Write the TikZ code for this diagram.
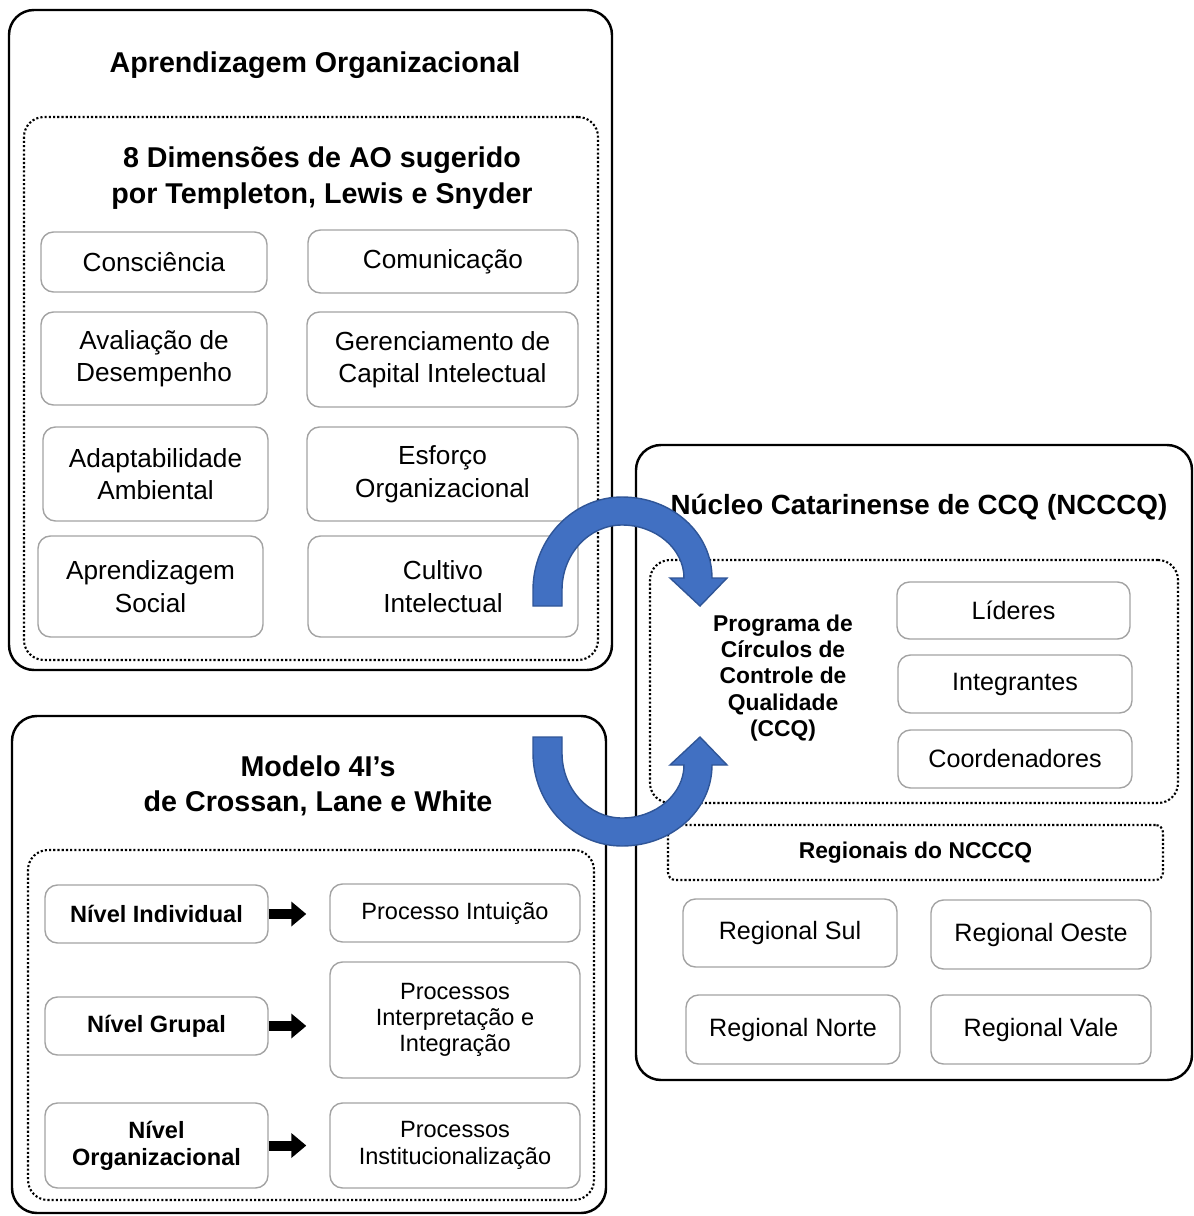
\documentclass[tikz,border=0pt]{standalone}
\usepackage{fontspec}
\setmainfont{Liberation Sans}
\usepackage{xcolor}
\definecolor{itemEdge}{HTML}{A3A3A3}
\definecolor{bendFill}{HTML}{4170C2}
\definecolor{bendEdge}{HTML}{2F5597}
\usetikzlibrary{arrows.meta}

\tikzset{
  outerbox/.style={draw=black, line width=1.4pt, rounded corners=0.5cm, inner sep=0pt},
  dotbox/.style={draw=black, line width=1.2pt, dash pattern=on 1.2pt off 1.2pt, rounded corners=0.4cm, inner sep=0pt},
  itembox/.style={draw=itemEdge, line width=0.8pt, rounded corners=0.25cm, inner sep=0pt, align=center},
  boxsize/.style 2 args={minimum width=#1*0.02cm, minimum height=#2*0.02cm},
  titletext/.style={font=\fontsize{16.3}{20.5}\selectfont\bfseries, align=center},
  dimtext/.style={font=\fontsize{14.9}{18.5}\selectfont},
  leveltext/.style={font=\fontsize{13.4}{15.4}\selectfont\bfseries},
  proctext/.style={font=\fontsize{13.4}{15}\selectfont},
  ccqtext/.style={font=\fontsize{14.3}{17}\selectfont},
  blockarrow/.style={line width=0.2cm, -{Triangle[length=0.3cm, width=0.48cm]}, shorten >=0.46cm}
}

% shape of the curved blue arrow (upper one, the lower one is mirrored)
\newcommand{\bendarrow}{%
  (533,606) -- (533,590)
  .. controls (533,539) and (573,497) .. (622,497)
  .. controls (672,497) and (712,533) .. (712,578)
  -- (727,578) -- (700,606) -- (670,578) -- (684,578)
  .. controls (684,549) and (656,525) .. (622,525)
  .. controls (589,525) and (562,554) .. (562,590)
  -- (562,606) -- cycle}

\begin{document}
\begin{tikzpicture}[x=0.02cm, y=-0.02cm]
  \useasboundingbox (0,0) rectangle (1193,1216);

  % Aprendizagem Organizacional
  \node[outerbox, boxsize={603}{660}] (aobox) at (310.5,340) {};
  \node[titletext] (aotitle) at (315,65) {Aprendizagem Organizacional};
  \node[dotbox, boxsize={574}{543}] (dimbox) at (311,388.5) {};
  \node[titletext] (dimtitle) at (322,178) {8 Dimensões de AO sugerido\\por Templeton, Lewis e Snyder};
  \node[itembox, dimtext, boxsize={226}{60}] (consc) at (154,262) {Consciência};
  \node[itembox, dimtext, boxsize={270}{63}] (comun) at (443,261.5) {Comunicação};
  \node[itembox, dimtext, boxsize={226}{93}] (aval) at (154,358.5) {Avaliação de\\Desempenho};
  \node[itembox, dimtext, boxsize={271}{95}] (gerenc) at (442.5,359.5) {Gerenciamento de\\Capital Intelectual};
  \node[itembox, dimtext, boxsize={225}{94}] (adapt) at (155.5,474) {Adaptabilidade\\Ambiental};
  \node[itembox, dimtext, boxsize={271}{94}] (esforco) at (442.5,474) {Esforço\\Organizacional};
  \node[itembox, dimtext, boxsize={225}{101}] (aprsoc) at (150.5,586.5) {Aprendizagem\\Social};
  \node[itembox, dimtext, boxsize={270}{101}] (cultivo) at (443,586.5) {Cultivo\\Intelectual};

  % Modelo 4I's
  \node[outerbox, boxsize={594}{497}] (modbox) at (309,964.5) {};
  \node[titletext, font=\fontsize{16.3}{20}\selectfont\bfseries] (modtitle) at (318,786) {Modelo 4I’s\\de Crossan, Lane e White};
  \node[dotbox, boxsize={566}{350}] (nivbox) at (311,1025) {};
  \node[itembox, leveltext, boxsize={223}{58}] (indiv) at (156.5,914) {Nível Individual};
  \node[itembox, leveltext, boxsize={223}{58}] (grupal) at (156.5,1026) {Nível Grupal};
  \node[itembox, leveltext, boxsize={223}{85}] (orgniv) at (156.5,1145.5) {Nível\\Organizacional};
  \node[itembox, proctext, boxsize={250}{58}] (intui) at (455,913) {Processo Intuição};
  \node[itembox, proctext, boxsize={250}{116}] (interp) at (455,1020) {Processos\\Interpretação e\\Integração};
  \node[itembox, proctext, boxsize={250}{85}] (instit) at (455,1145.5) {Processos\\Institucionalização};
  \draw[blockarrow] (indiv.east) -- (indiv.east -| intui.west);
  \draw[blockarrow] (grupal.east) -- (grupal.east -| interp.west);
  \draw[blockarrow] (orgniv.east) -- (orgniv.east -| instit.west);

  % NCCCQ
  \node[outerbox, boxsize={556}{635}] (ncbox) at (914,762.5) {};
  \node[titletext, font=\fontsize{15.8}{20}\selectfont\bfseries] (nctitle) at (919,507) {Núcleo Catarinense de CCQ (NCCCQ)};
  \node[dotbox, boxsize={528}{243}] (ccqbox) at (914,681.5) {};
  \node[font=\fontsize{13}{14.9}\selectfont\bfseries, align=center] (programa) at (783,678)
    {Programa de\\Círculos de\\Controle de\\Qualidade\\(CCQ)};
  \node[itembox, ccqtext, boxsize={233}{57}] (lideres) at (1013.5,610.5) {Líderes};
  \node[itembox, ccqtext, boxsize={234}{58}] (integr) at (1015,684) {Integrantes};
  \node[itembox, ccqtext, boxsize={234}{58}] (coord) at (1015,759) {Coordenadores};
  \node[dotbox, rounded corners=0.15cm, boxsize={495}{55}, font=\fontsize{13}{15}\selectfont\bfseries] (regbox) at (915.5,852.5) {Regionais do NCCCQ};
  \node[itembox, ccqtext, boxsize={214}{68}] (regsul) at (790,933) {Regional Sul};
  \node[itembox, ccqtext, boxsize={220}{69}] (regoeste) at (1041,934.5) {Regional Oeste};
  \node[itembox, ccqtext, boxsize={214}{69}] (regnorte) at (793,1029.5) {Regional Norte};
  \node[itembox, ccqtext, boxsize={220}{69}] (regvale) at (1041,1029.5) {Regional Vale};

  % curved blue arrows
  \filldraw[fill=bendFill, draw=bendEdge, line width=0.8pt] \bendarrow;
  \begin{scope}[shift={(0,1343)}, yscale=-1]
    \filldraw[fill=bendFill, draw=bendEdge, line width=0.8pt] \bendarrow;
  \end{scope}
\end{tikzpicture}
\end{document}
